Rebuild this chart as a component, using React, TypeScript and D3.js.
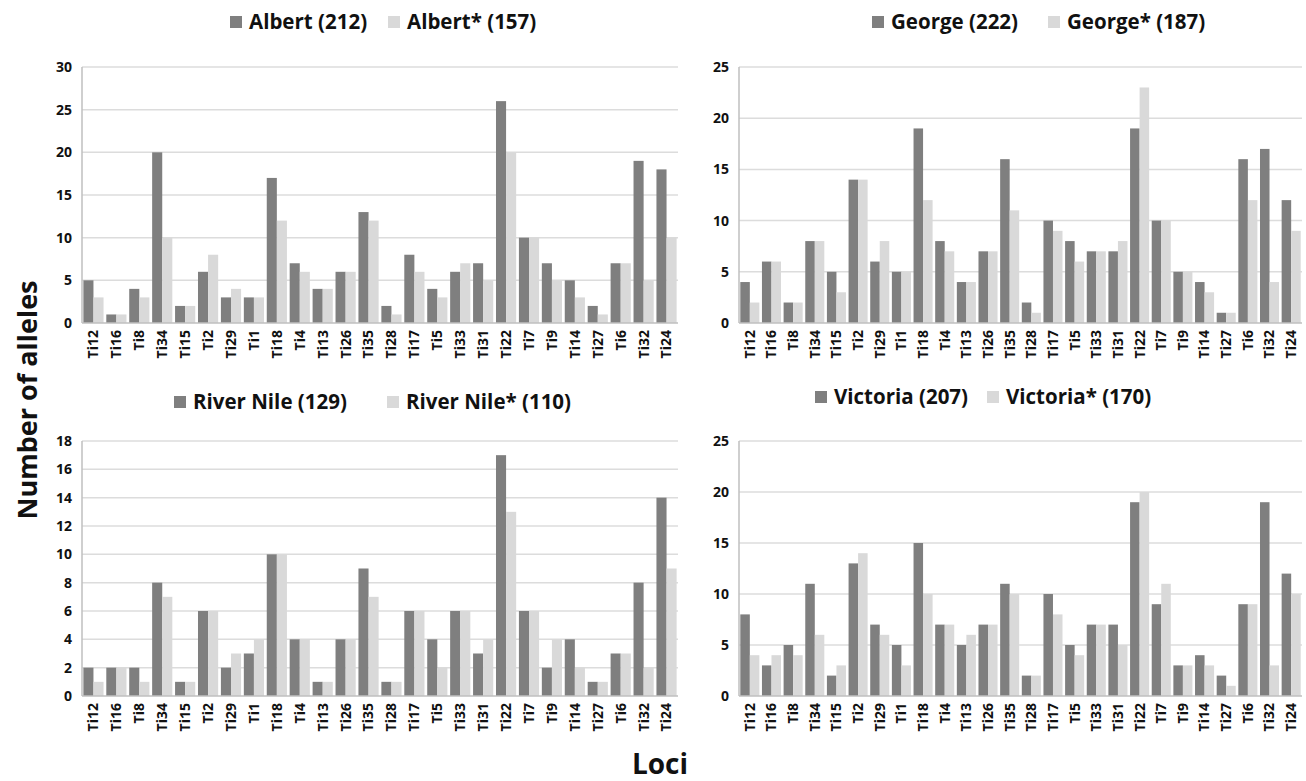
import React from "react";
import * as d3 from "d3";

const loci = ["Ti12", "Ti16", "Ti8", "Ti34", "Ti15", "Ti2", "Ti29", "Ti1", "Ti18", "Ti4", "Ti13", "Ti26", "Ti35", "Ti28", "Ti17", "Ti5", "Ti33", "Ti31", "Ti22", "Ti7", "Ti9", "Ti14", "Ti27", "Ti6", "Ti32", "Ti24"];

const albert = [5, 1, 4, 20, 2, 6, 3, 3, 17, 7, 4, 6, 13, 2, 8, 4, 6, 7, 26, 10, 7, 5, 2, 7, 19, 18];
const albertStar = [3, 1, 3, 10, 2, 8, 4, 3, 12, 6, 4, 6, 12, 1, 6, 3, 7, 5, 20, 10, 5, 3, 1, 7, 5, 10];
const george = [4, 6, 2, 8, 5, 14, 6, 5, 19, 8, 4, 7, 16, 2, 10, 8, 7, 7, 19, 10, 5, 4, 1, 16, 17, 12];
const georgeStar = [2, 6, 2, 8, 3, 14, 8, 5, 12, 7, 4, 7, 11, 1, 9, 6, 7, 8, 23, 10, 5, 3, 1, 12, 4, 9];
const nile = [2, 2, 2, 8, 1, 6, 2, 3, 10, 4, 1, 4, 9, 1, 6, 4, 6, 3, 17, 6, 2, 4, 1, 3, 8, 14];
const nileStar = [1, 2, 1, 7, 1, 6, 3, 4, 10, 4, 1, 4, 7, 1, 6, 2, 6, 4, 13, 6, 4, 2, 1, 3, 2, 9];
const victoria = [8, 3, 5, 11, 2, 13, 7, 5, 15, 7, 5, 7, 11, 2, 10, 5, 7, 7, 19, 9, 3, 4, 2, 9, 19, 12];
const victoriaStar = [4, 4, 4, 6, 3, 14, 6, 3, 10, 7, 6, 7, 10, 2, 8, 4, 7, 5, 20, 11, 3, 3, 1, 9, 3, 10];

const seriesNames = [
  ["Albert (212)", "Albert* (157)"],
  ["George (222)", "George* (187)"],
  ["River Nile (129)", "River Nile* (110)"],
  ["Victoria (207)", "Victoria* (170)"],
];
const yMax = [30, 25, 18, 25];
const yStep = [5, 5, 2, 5];

const DARK = "#7f7f7f";
const LIGHT = "#d9d9d9";
const FONT = "'Open Sans', Arial, sans-serif";

function Panel({ a, b, names, max, step, x0, x1, yTop, yZero, leg }) {
  const x = d3.scaleBand().domain(loci).range([x0, x1]).paddingInner(0.12).paddingOuter(0.06);
  const inner = d3.scaleBand().domain(["a", "b"]).range([0, x.bandwidth()]);
  const y = d3.scaleLinear().domain([0, max]).range([yZero, yTop]);
  const ticks = d3.range(0, max + step / 2, step);
  return (
    <g>
      {ticks.map((t) => (
        <g key={t}>
          {t > 0 && <line x1={x0} x2={x1} y1={y(t)} y2={y(t)} stroke="#dcdcdc" strokeWidth={1.5} />}
          <text x={x0 - 10} y={y(t)} dy="0.35em" textAnchor="end" fontSize={14} fontWeight="bold" fill="#111">
            {t}
          </text>
        </g>
      ))}
      <line x1={x0} x2={x0} y1={yTop} y2={yZero} stroke="#bfbfbf" strokeWidth={1.5} />
      {loci.map((l, i) => (
        <g key={l}>
          <rect x={x(l)} y={y(a[i])} width={inner.bandwidth()} height={yZero - y(a[i])} fill={DARK} />
          <rect x={x(l) + inner("b")} y={y(b[i])} width={inner.bandwidth()} height={yZero - y(b[i])} fill={LIGHT} />
          <text
            transform={`translate(${x(l) + x.bandwidth() / 2},${yZero + 7}) rotate(-90)`}
            textAnchor="end"
            dy="0.35em"
            fontSize={14}
            fontWeight="bold"
            fill="#111"
          >
            {l}
          </text>
        </g>
      ))}
      <line x1={x0} x2={x1} y1={yZero} y2={yZero} stroke="#bfbfbf" strokeWidth={1.5} />
      {names.map((n, k) => (
        <g key={n}>
          <rect x={leg[k]} y={leg[2] - 6} width={12} height={12} fill={k === 0 ? DARK : LIGHT} />
          <text x={leg[k] + 19} y={leg[2]} dy="0.35em" fontSize={20.5} fontWeight="bold" fill="#111">
            {n}
          </text>
        </g>
      ))}
    </g>
  );
}

export default function App() {
  return (
    <svg width={1306} height={781} style={{ position: "absolute", left: 0, top: 0, background: "#fff" }} fontFamily={FONT}>
      <Panel a={albert} b={albertStar} names={seriesNames[0]} max={yMax[0]} step={yStep[0]} x0={82} x1={678} yTop={67} yZero={323} leg={[230, 388, 22]} />
      <Panel a={george} b={georgeStar} names={seriesNames[1]} max={yMax[1]} step={yStep[1]} x0={739} x1={1302} yTop={67} yZero={323} leg={[872, 1048, 22]} />
      <Panel a={nile} b={nileStar} names={seriesNames[2]} max={yMax[2]} step={yStep[2]} x0={82} x1={678} yTop={441} yZero={696} leg={[174, 387, 402]} />
      <Panel a={victoria} b={victoriaStar} names={seriesNames[3]} max={yMax[3]} step={yStep[3]} x0={739} x1={1302} yTop={441} yZero={696} leg={[815, 987, 397]} />
      <text transform="translate(28,400) rotate(-90)" textAnchor="middle" dy="0.35em" fontSize={27} fontWeight="bold" fill="#111">
        Number of alleles
      </text>
      <text x={660} y={764} textAnchor="middle" dy="0.35em" fontSize={28} fontWeight="bold" fill="#111">
        Loci
      </text>
    </svg>
  );
}
